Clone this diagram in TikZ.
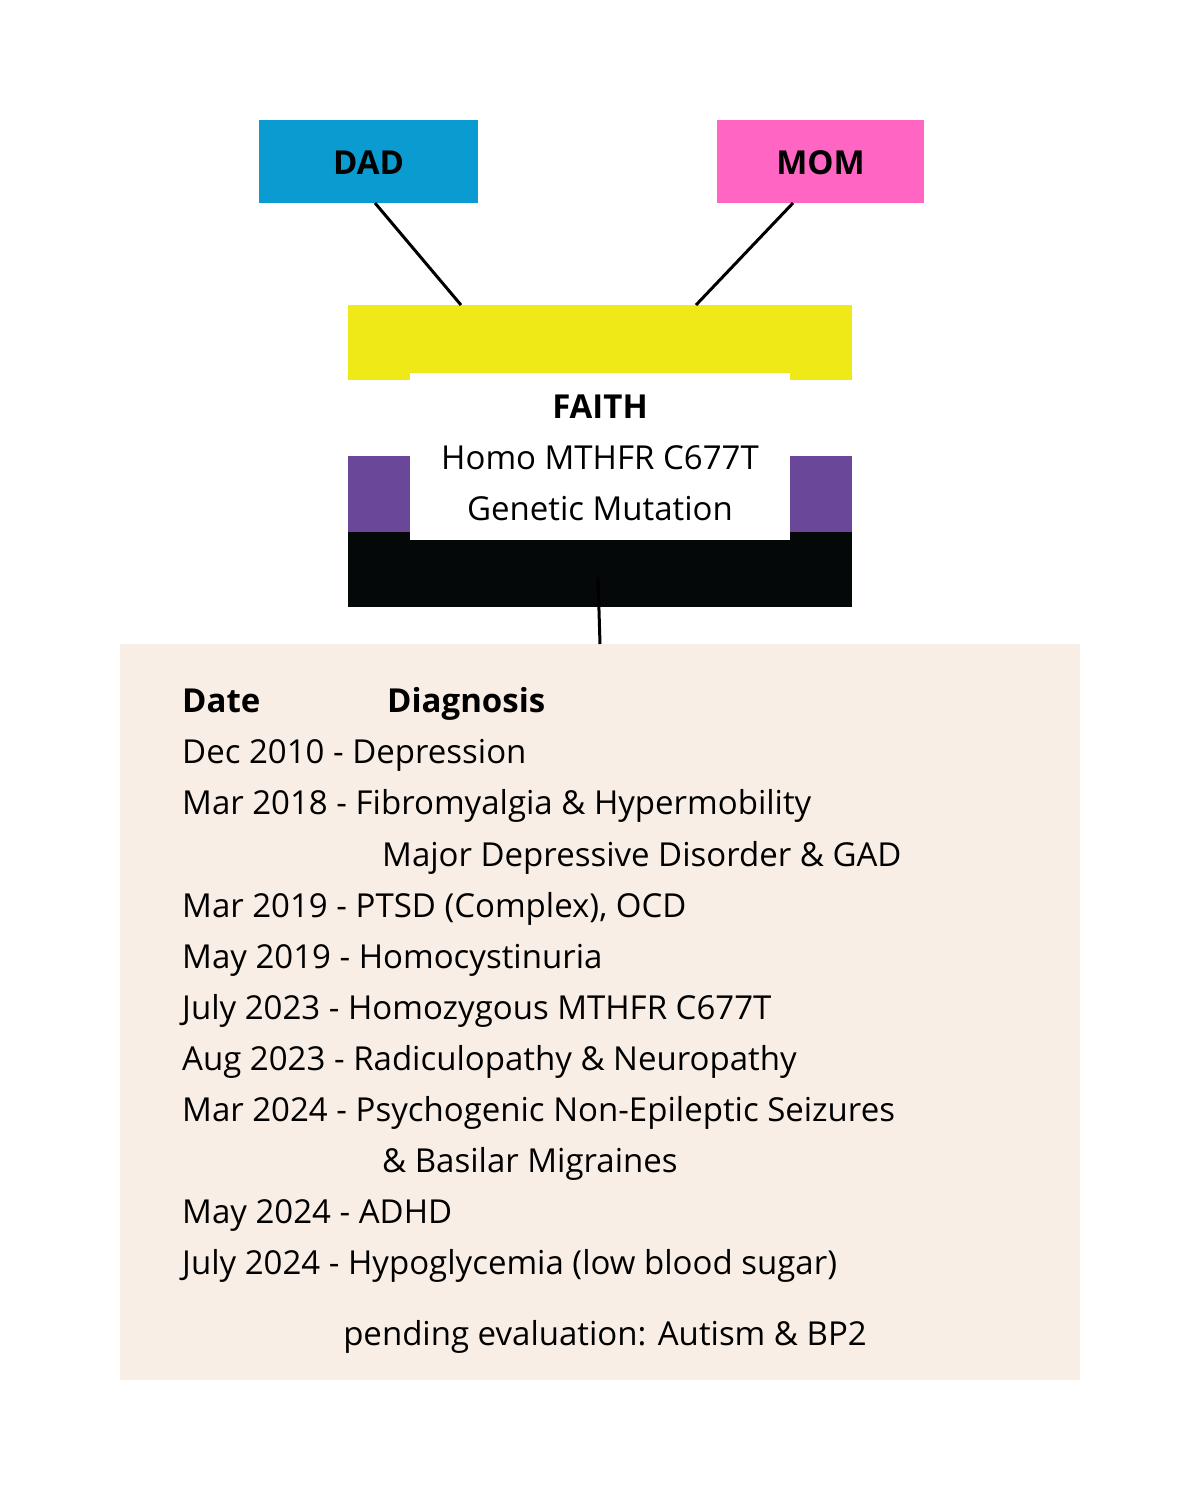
\documentclass[tikz,border=0pt]{standalone}
\usepackage{fontspec}
\setmainfont{Open Sans}
\begin{document}
\begin{tikzpicture}[x=1pt,y=-1pt,
  box/.style={draw=none,inner sep=0pt,outer sep=0pt},
  ln/.style={line width=3pt,black},
  txt/.style={anchor=base west,inner sep=0pt,font=\fontsize{33}{40}\selectfont},
  hd/.style={txt,font=\fontsize{33}{40}\selectfont\bfseries}]
\useasboundingbox (0,0) rectangle (1200,1500);
\definecolor{dadc}{HTML}{0A9BD0}
\definecolor{momc}{HTML}{FF66C4}
\definecolor{yel}{HTML}{EFE918}
\definecolor{pur}{HTML}{6A4799}
\definecolor{blk}{HTML}{050808}
\definecolor{beige}{HTML}{F9EEE5}
% boxes
\fill[dadc] (259,120) rectangle (478,203);
\node[box,font=\fontsize{33}{40}\selectfont\bfseries] (dad) at (368.5,163) {DAD};
\fill[momc] (717,120) rectangle (924,203);
\node[box,font=\fontsize{33}{40}\selectfont\bfseries] (mom) at (820.5,163) {MOM};
\fill[yel] (348,305) rectangle (852,380);
\fill[pur] (348,456) rectangle (852,532);
\fill[blk] (348,532) rectangle (852,607);
\fill[white] (410,373) rectangle (790,540);
\coordinate (dadb) at (375,203);
\coordinate (momb) at (793,203);
\coordinate (fy1) at (461,305);
\coordinate (fy2) at (696,305);
\coordinate (fb) at (598,577);
\coordinate (tt) at (600,644);
\node[box,font=\fontsize{33}{40}\selectfont\bfseries] (faith) at (600,407) {FAITH};
\node[box,font=\fontsize{33}{40}\selectfont] (homo) at (600,458) {Homo MTHFR C677T};
\node[box,font=\fontsize{33}{40}\selectfont] (gen) at (600,509) {Genetic Mutation};
\draw[ln] (dadb) -- (fy1);
\draw[ln] (momb) -- (fy2);
\fill[beige] (120,644) rectangle (1080,1380);
\draw[ln] (fb) -- (tt);
% table
\node[hd] (h1) at (182,712) {Date};
\node[hd] (h2) at (387,712) {Diagnosis};
\node[txt] (r1) at (182,763) {Dec 2010 - Depression};
\node[txt] (r2) at (182,814) {Mar 2018 - Fibromyalgia \& Hypermobility};
\node[txt] (r2b) at (382,866) {Major Depressive Disorder \& GAD};
\node[txt] (r3) at (182,917) {Mar 2019 - PTSD (Complex), OCD};
\node[txt] (r4) at (182,968) {May 2019 - Homocystinuria};
\node[txt] (r5) at (182,1019) {July 2023 - Homozygous MTHFR C677T};
\node[txt] (r6) at (182,1070) {Aug 2023 - Radiculopathy \& Neuropathy};
\node[txt] (r7) at (182,1121) {Mar 2024 - Psychogenic Non-Epileptic Seizures};
\node[txt] (r7b) at (382,1172) {\& Basilar Migraines};
\node[txt] (r8) at (182,1223) {May 2024 - ADHD};
\node[txt] (r9) at (182,1274) {July 2024 - Hypoglycemia (low blood sugar)};
\node[txt,anchor=base] (pend) at (605,1345) {pending evaluation: Autism \& BP2};
\end{tikzpicture}
\end{document}
